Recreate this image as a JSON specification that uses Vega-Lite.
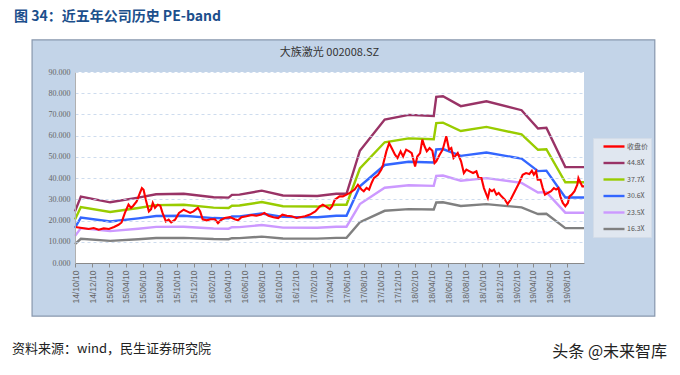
{
  "$schema": "https://vega.github.io/schema/vega-lite/v6.json",
  "width": 509,
  "height": 191,
  "autosize": {"type": "none"},
  "padding": {"left": 75, "top": 72, "right": 96, "bottom": 112},
  "background": "white",
  "config": {
    "view": {"stroke": null},
    "axis": {"zindex": 1, "labelOverlap": false, "labelFlush": false, "labelBound": false, "title": null}
  },
  "datasets": {
    "bands": [
      {"d": "2014-10-10", "s": "44.8X", "v": 24.3}, {"d": "2014-10-10", "s": "37.7X", "v": 20.45}, {"d": "2014-10-10", "s": "30.6X", "v": 16.6}, {"d": "2014-10-10", "s": "23.5X", "v": 12.75}, {"d": "2014-10-10", "s": "16.3X", "v": 8.84},
      {"d": "2014-10-31", "s": "44.8X", "v": 31.3}, {"d": "2014-10-31", "s": "37.7X", "v": 26.34}, {"d": "2014-10-31", "s": "30.6X", "v": 21.38}, {"d": "2014-10-31", "s": "23.5X", "v": 16.42}, {"d": "2014-10-31", "s": "16.3X", "v": 11.39},
      {"d": "2015-02-13", "s": "44.8X", "v": 28.6}, {"d": "2015-02-13", "s": "37.7X", "v": 24.07}, {"d": "2015-02-13", "s": "30.6X", "v": 19.53}, {"d": "2015-02-13", "s": "23.5X", "v": 15.0}, {"d": "2015-02-13", "s": "16.3X", "v": 10.41},
      {"d": "2015-05-25", "s": "44.8X", "v": 30.8}, {"d": "2015-05-25", "s": "37.7X", "v": 25.92}, {"d": "2015-05-25", "s": "30.6X", "v": 21.04}, {"d": "2015-05-25", "s": "23.5X", "v": 16.16}, {"d": "2015-05-25", "s": "16.3X", "v": 11.21},
      {"d": "2015-07-28", "s": "44.8X", "v": 32.4}, {"d": "2015-07-28", "s": "37.7X", "v": 27.26}, {"d": "2015-07-28", "s": "30.6X", "v": 22.13}, {"d": "2015-07-28", "s": "23.5X", "v": 17.0}, {"d": "2015-07-28", "s": "16.3X", "v": 11.79},
      {"d": "2015-11-04", "s": "44.8X", "v": 32.6}, {"d": "2015-11-04", "s": "37.7X", "v": 27.43}, {"d": "2015-11-04", "s": "30.6X", "v": 22.27}, {"d": "2015-11-04", "s": "23.5X", "v": 17.1}, {"d": "2015-11-04", "s": "16.3X", "v": 11.86},
      {"d": "2016-02-19", "s": "44.8X", "v": 31.0}, {"d": "2016-02-19", "s": "37.7X", "v": 26.09}, {"d": "2016-02-19", "s": "30.6X", "v": 21.17}, {"d": "2016-02-19", "s": "23.5X", "v": 16.26}, {"d": "2016-02-19", "s": "16.3X", "v": 11.28},
      {"d": "2016-04-13", "s": "44.8X", "v": 30.8}, {"d": "2016-04-13", "s": "37.7X", "v": 25.92}, {"d": "2016-04-13", "s": "30.6X", "v": 21.04}, {"d": "2016-04-13", "s": "23.5X", "v": 16.16}, {"d": "2016-04-13", "s": "16.3X", "v": 11.21},
      {"d": "2016-04-25", "s": "44.8X", "v": 32.1}, {"d": "2016-04-25", "s": "37.7X", "v": 27.01}, {"d": "2016-04-25", "s": "30.6X", "v": 21.93}, {"d": "2016-04-25", "s": "23.5X", "v": 16.84}, {"d": "2016-04-25", "s": "16.3X", "v": 11.68},
      {"d": "2016-05-22", "s": "44.8X", "v": 32.2}, {"d": "2016-05-22", "s": "37.7X", "v": 27.1}, {"d": "2016-05-22", "s": "30.6X", "v": 21.99}, {"d": "2016-05-22", "s": "23.5X", "v": 16.89}, {"d": "2016-05-22", "s": "16.3X", "v": 11.72},
      {"d": "2016-08-10", "s": "44.8X", "v": 34.1}, {"d": "2016-08-10", "s": "37.7X", "v": 28.7}, {"d": "2016-08-10", "s": "30.6X", "v": 23.29}, {"d": "2016-08-10", "s": "23.5X", "v": 17.89}, {"d": "2016-08-10", "s": "16.3X", "v": 12.41},
      {"d": "2016-10-25", "s": "44.8X", "v": 31.8}, {"d": "2016-10-25", "s": "37.7X", "v": 26.76}, {"d": "2016-10-25", "s": "30.6X", "v": 21.72}, {"d": "2016-10-25", "s": "23.5X", "v": 16.68}, {"d": "2016-10-25", "s": "16.3X", "v": 11.57},
      {"d": "2017-02-25", "s": "44.8X", "v": 31.6}, {"d": "2017-02-25", "s": "37.7X", "v": 26.59}, {"d": "2017-02-25", "s": "30.6X", "v": 21.58}, {"d": "2017-02-25", "s": "23.5X", "v": 16.58}, {"d": "2017-02-25", "s": "16.3X", "v": 11.5},
      {"d": "2017-05-04", "s": "44.8X", "v": 32.6}, {"d": "2017-05-04", "s": "37.7X", "v": 27.43}, {"d": "2017-05-04", "s": "30.6X", "v": 22.27}, {"d": "2017-05-04", "s": "23.5X", "v": 17.1}, {"d": "2017-05-04", "s": "16.3X", "v": 11.86},
      {"d": "2017-06-10", "s": "44.8X", "v": 32.6}, {"d": "2017-06-10", "s": "37.7X", "v": 27.43}, {"d": "2017-06-10", "s": "30.6X", "v": 22.27}, {"d": "2017-06-10", "s": "23.5X", "v": 17.1}, {"d": "2017-06-10", "s": "16.3X", "v": 11.86},
      {"d": "2017-07-28", "s": "44.8X", "v": 52.9}, {"d": "2017-07-28", "s": "37.7X", "v": 44.52}, {"d": "2017-07-28", "s": "30.6X", "v": 36.13}, {"d": "2017-07-28", "s": "23.5X", "v": 27.75}, {"d": "2017-07-28", "s": "16.3X", "v": 19.25},
      {"d": "2017-10-25", "s": "44.8X", "v": 67.6}, {"d": "2017-10-25", "s": "37.7X", "v": 56.89}, {"d": "2017-10-25", "s": "30.6X", "v": 46.17}, {"d": "2017-10-25", "s": "23.5X", "v": 35.46}, {"d": "2017-10-25", "s": "16.3X", "v": 24.6},
      {"d": "2018-01-19", "s": "44.8X", "v": 69.8}, {"d": "2018-01-19", "s": "37.7X", "v": 58.74}, {"d": "2018-01-19", "s": "30.6X", "v": 47.68}, {"d": "2018-01-19", "s": "23.5X", "v": 36.61}, {"d": "2018-01-19", "s": "16.3X", "v": 25.4},
      {"d": "2018-04-19", "s": "44.8X", "v": 69.3}, {"d": "2018-04-19", "s": "37.7X", "v": 58.32}, {"d": "2018-04-19", "s": "30.6X", "v": 47.34}, {"d": "2018-04-19", "s": "23.5X", "v": 36.35}, {"d": "2018-04-19", "s": "16.3X", "v": 25.21},
      {"d": "2018-04-28", "s": "44.8X", "v": 78.3}, {"d": "2018-04-28", "s": "37.7X", "v": 65.89}, {"d": "2018-04-28", "s": "30.6X", "v": 53.48}, {"d": "2018-04-28", "s": "23.5X", "v": 41.07}, {"d": "2018-04-28", "s": "16.3X", "v": 28.49},
      {"d": "2018-05-22", "s": "44.8X", "v": 78.6}, {"d": "2018-05-22", "s": "37.7X", "v": 66.14}, {"d": "2018-05-22", "s": "30.6X", "v": 53.69}, {"d": "2018-05-22", "s": "23.5X", "v": 41.23}, {"d": "2018-05-22", "s": "16.3X", "v": 28.6},
      {"d": "2018-07-25", "s": "44.8X", "v": 73.9}, {"d": "2018-07-25", "s": "37.7X", "v": 62.19}, {"d": "2018-07-25", "s": "30.6X", "v": 50.48}, {"d": "2018-07-25", "s": "23.5X", "v": 38.76}, {"d": "2018-07-25", "s": "16.3X", "v": 26.89},
      {"d": "2018-10-25", "s": "44.8X", "v": 76.2}, {"d": "2018-10-25", "s": "37.7X", "v": 64.12}, {"d": "2018-10-25", "s": "30.6X", "v": 52.05}, {"d": "2018-10-25", "s": "23.5X", "v": 39.97}, {"d": "2018-10-25", "s": "16.3X", "v": 27.72},
      {"d": "2019-02-28", "s": "44.8X", "v": 72.0}, {"d": "2019-02-28", "s": "37.7X", "v": 60.59}, {"d": "2019-02-28", "s": "30.6X", "v": 49.18}, {"d": "2019-02-28", "s": "23.5X", "v": 37.77}, {"d": "2019-02-28", "s": "16.3X", "v": 26.2},
      {"d": "2019-04-28", "s": "44.8X", "v": 63.4}, {"d": "2019-04-28", "s": "37.7X", "v": 53.35}, {"d": "2019-04-28", "s": "30.6X", "v": 43.3}, {"d": "2019-04-28", "s": "23.5X", "v": 33.26}, {"d": "2019-04-28", "s": "16.3X", "v": 23.07},
      {"d": "2019-05-28", "s": "44.8X", "v": 63.7}, {"d": "2019-05-28", "s": "37.7X", "v": 53.6}, {"d": "2019-05-28", "s": "30.6X", "v": 43.51}, {"d": "2019-05-28", "s": "23.5X", "v": 33.41}, {"d": "2019-05-28", "s": "16.3X", "v": 23.18},
      {"d": "2019-08-04", "s": "44.8X", "v": 45.2}, {"d": "2019-08-04", "s": "37.7X", "v": 38.04}, {"d": "2019-08-04", "s": "30.6X", "v": 30.87}, {"d": "2019-08-04", "s": "23.5X", "v": 23.71}, {"d": "2019-08-04", "s": "16.3X", "v": 16.45},
      {"d": "2019-10-10", "s": "44.8X", "v": 45.2}, {"d": "2019-10-10", "s": "37.7X", "v": 38.04}, {"d": "2019-10-10", "s": "30.6X", "v": 30.87}, {"d": "2019-10-10", "s": "23.5X", "v": 23.71}, {"d": "2019-10-10", "s": "16.3X", "v": 16.45}
    ],
    "price": [
      {"d": "2014-10-10", "v": 17.0}, {"d": "2014-11-04", "v": 16.5}, {"d": "2014-11-28", "v": 16.0}, {"d": "2014-12-16", "v": 16.5},
      {"d": "2015-01-03", "v": 15.7}, {"d": "2015-01-21", "v": 16.3}, {"d": "2015-02-09", "v": 16.0}, {"d": "2015-02-27", "v": 17.0},
      {"d": "2015-03-15", "v": 18.0}, {"d": "2015-03-26", "v": 19.1}, {"d": "2015-04-07", "v": 23.6}, {"d": "2015-04-20", "v": 27.5},
      {"d": "2015-04-29", "v": 26.0}, {"d": "2015-05-07", "v": 27.0}, {"d": "2015-05-19", "v": 29.0}, {"d": "2015-05-31", "v": 33.0},
      {"d": "2015-06-07", "v": 35.3}, {"d": "2015-06-13", "v": 34.5}, {"d": "2015-06-21", "v": 29.8}, {"d": "2015-07-02", "v": 24.3},
      {"d": "2015-07-10", "v": 25.4}, {"d": "2015-07-16", "v": 28.3}, {"d": "2015-07-24", "v": 26.0}, {"d": "2015-08-03", "v": 27.5},
      {"d": "2015-08-12", "v": 27.0}, {"d": "2015-08-20", "v": 23.6}, {"d": "2015-09-01", "v": 19.6}, {"d": "2015-09-11", "v": 20.4},
      {"d": "2015-09-20", "v": 19.1}, {"d": "2015-10-04", "v": 20.4}, {"d": "2015-10-18", "v": 23.6}, {"d": "2015-11-04", "v": 25.1},
      {"d": "2015-11-16", "v": 24.3}, {"d": "2015-11-27", "v": 23.6}, {"d": "2015-12-09", "v": 24.3}, {"d": "2015-12-25", "v": 26.0},
      {"d": "2016-01-02", "v": 24.3}, {"d": "2016-01-11", "v": 20.6}, {"d": "2016-01-26", "v": 20.1}, {"d": "2016-02-08", "v": 20.6},
      {"d": "2016-02-24", "v": 20.6}, {"d": "2016-03-06", "v": 18.8}, {"d": "2016-03-18", "v": 20.4}, {"d": "2016-03-30", "v": 21.2},
      {"d": "2016-04-18", "v": 21.6}, {"d": "2016-05-05", "v": 20.6}, {"d": "2016-05-17", "v": 20.1}, {"d": "2016-05-29", "v": 21.6},
      {"d": "2016-06-16", "v": 22.0}, {"d": "2016-07-04", "v": 22.6}, {"d": "2016-07-22", "v": 22.3}, {"d": "2016-08-09", "v": 22.8},
      {"d": "2016-08-19", "v": 23.6}, {"d": "2016-09-03", "v": 22.3}, {"d": "2016-09-21", "v": 21.6}, {"d": "2016-10-08", "v": 21.2},
      {"d": "2016-10-23", "v": 22.8}, {"d": "2016-11-08", "v": 22.3}, {"d": "2016-11-25", "v": 22.0}, {"d": "2016-12-13", "v": 21.2},
      {"d": "2016-12-25", "v": 21.6}, {"d": "2017-01-12", "v": 22.0}, {"d": "2017-01-30", "v": 22.8}, {"d": "2017-02-18", "v": 24.3},
      {"d": "2017-03-06", "v": 26.6}, {"d": "2017-03-17", "v": 27.5}, {"d": "2017-03-29", "v": 26.6}, {"d": "2017-04-11", "v": 25.4},
      {"d": "2017-04-19", "v": 26.6}, {"d": "2017-04-29", "v": 29.8}, {"d": "2017-05-06", "v": 30.5}, {"d": "2017-05-16", "v": 31.4},
      {"d": "2017-05-28", "v": 31.4}, {"d": "2017-06-10", "v": 32.2}, {"d": "2017-06-22", "v": 33.0}, {"d": "2017-07-09", "v": 34.6},
      {"d": "2017-07-21", "v": 36.9}, {"d": "2017-08-03", "v": 34.6}, {"d": "2017-08-11", "v": 33.8}, {"d": "2017-08-21", "v": 35.4},
      {"d": "2017-08-30", "v": 34.6}, {"d": "2017-09-08", "v": 37.7}, {"d": "2017-09-16", "v": 40.0}, {"d": "2017-10-01", "v": 41.6},
      {"d": "2017-10-13", "v": 44.0}, {"d": "2017-10-19", "v": 46.3}, {"d": "2017-10-31", "v": 52.6}, {"d": "2017-11-10", "v": 56.5},
      {"d": "2017-11-19", "v": 54.2}, {"d": "2017-12-01", "v": 51.0}, {"d": "2017-12-10", "v": 49.5}, {"d": "2017-12-21", "v": 52.6},
      {"d": "2017-12-30", "v": 50.2}, {"d": "2018-01-10", "v": 53.4}, {"d": "2018-01-21", "v": 52.6}, {"d": "2018-01-30", "v": 51.8},
      {"d": "2018-02-11", "v": 45.5}, {"d": "2018-02-19", "v": 50.2}, {"d": "2018-03-01", "v": 51.8}, {"d": "2018-03-09", "v": 58.1},
      {"d": "2018-03-17", "v": 55.0}, {"d": "2018-03-25", "v": 52.6}, {"d": "2018-04-04", "v": 54.2}, {"d": "2018-04-14", "v": 52.9},
      {"d": "2018-04-22", "v": 47.1}, {"d": "2018-04-28", "v": 47.9}, {"d": "2018-05-10", "v": 51.0}, {"d": "2018-05-21", "v": 53.4},
      {"d": "2018-06-03", "v": 59.7}, {"d": "2018-06-13", "v": 53.4}, {"d": "2018-06-21", "v": 54.2}, {"d": "2018-06-29", "v": 49.5},
      {"d": "2018-07-14", "v": 51.8}, {"d": "2018-07-26", "v": 47.9}, {"d": "2018-08-05", "v": 42.4}, {"d": "2018-08-14", "v": 44.0},
      {"d": "2018-08-26", "v": 43.2}, {"d": "2018-09-07", "v": 42.4}, {"d": "2018-09-19", "v": 43.2}, {"d": "2018-09-27", "v": 40.0},
      {"d": "2018-10-07", "v": 40.0}, {"d": "2018-10-16", "v": 35.3}, {"d": "2018-10-25", "v": 32.2}, {"d": "2018-10-30", "v": 30.6},
      {"d": "2018-11-06", "v": 34.6}, {"d": "2018-11-14", "v": 33.8}, {"d": "2018-11-21", "v": 34.6}, {"d": "2018-11-30", "v": 32.2},
      {"d": "2018-12-08", "v": 33.0}, {"d": "2018-12-18", "v": 31.4}, {"d": "2018-12-30", "v": 29.9}, {"d": "2019-01-09", "v": 27.8},
      {"d": "2019-01-20", "v": 29.9}, {"d": "2019-02-04", "v": 33.8}, {"d": "2019-02-19", "v": 37.7}, {"d": "2019-03-04", "v": 41.6},
      {"d": "2019-03-16", "v": 42.4}, {"d": "2019-03-28", "v": 41.9}, {"d": "2019-04-06", "v": 43.5}, {"d": "2019-04-13", "v": 41.6},
      {"d": "2019-04-21", "v": 43.2}, {"d": "2019-04-27", "v": 39.2}, {"d": "2019-05-07", "v": 39.2}, {"d": "2019-05-15", "v": 35.3},
      {"d": "2019-05-23", "v": 32.2}, {"d": "2019-06-02", "v": 33.0}, {"d": "2019-06-14", "v": 33.8}, {"d": "2019-06-24", "v": 35.3},
      {"d": "2019-07-02", "v": 34.6}, {"d": "2019-07-10", "v": 35.3}, {"d": "2019-07-17", "v": 31.4}, {"d": "2019-07-26", "v": 28.3},
      {"d": "2019-08-04", "v": 26.7}, {"d": "2019-08-13", "v": 28.3}, {"d": "2019-08-19", "v": 31.4}, {"d": "2019-08-27", "v": 32.2},
      {"d": "2019-09-06", "v": 33.8}, {"d": "2019-09-16", "v": 36.9}, {"d": "2019-09-20", "v": 40.0}, {"d": "2019-09-28", "v": 37.7},
      {"d": "2019-10-04", "v": 36.1}, {"d": "2019-10-10", "v": 36.1}
    ]
  },
  "layer": [
    {
      "data": {"values": [{}]},
      "mark": {"type": "rect", "fill": "#c3d4e8", "stroke": "#8797ad", "strokeWidth": 1.2, "clip": false},
      "encoding": {
        "x": {
          "datum": {"year": 2014, "month": 5, "date": 9, "utc": true}, "type": "temporal", "title": null,
          "scale": {"type": "utc", "domain": [{"year": 2014, "month": 10, "date": 10, "utc": true}, {"year": 2019, "month": 10, "date": 10, "utc": true}], "nice": false},
          "axis": {
            "format": "%y/%m/%d", "labelAngle": -90, "labelFont": "Liberation Sans", "labelFontSize": 8.5, "labelColor": "#666666",
            "labelOverlap": false, "labelFlush": false, "labelBound": false, "tickCount": 40,
            "grid": false, "domainColor": "#8a8a8a", "tickColor": "#8a8a8a", "tickSize": 4, "labelPadding": 3, "zindex": 1,
            "values": [
              {"year": 2014, "month": 10, "date": 10, "utc": true}, {"year": 2014, "month": 12, "date": 10, "utc": true},
              {"year": 2015, "month": 2, "date": 10, "utc": true}, {"year": 2015, "month": 4, "date": 10, "utc": true},
              {"year": 2015, "month": 6, "date": 10, "utc": true}, {"year": 2015, "month": 8, "date": 10, "utc": true},
              {"year": 2015, "month": 10, "date": 10, "utc": true}, {"year": 2015, "month": 12, "date": 10, "utc": true},
              {"year": 2016, "month": 2, "date": 10, "utc": true}, {"year": 2016, "month": 4, "date": 10, "utc": true},
              {"year": 2016, "month": 6, "date": 10, "utc": true}, {"year": 2016, "month": 8, "date": 10, "utc": true},
              {"year": 2016, "month": 10, "date": 10, "utc": true}, {"year": 2016, "month": 12, "date": 10, "utc": true},
              {"year": 2017, "month": 2, "date": 10, "utc": true}, {"year": 2017, "month": 4, "date": 10, "utc": true},
              {"year": 2017, "month": 6, "date": 10, "utc": true}, {"year": 2017, "month": 8, "date": 10, "utc": true},
              {"year": 2017, "month": 10, "date": 10, "utc": true}, {"year": 2017, "month": 12, "date": 10, "utc": true},
              {"year": 2018, "month": 2, "date": 10, "utc": true}, {"year": 2018, "month": 4, "date": 10, "utc": true},
              {"year": 2018, "month": 6, "date": 10, "utc": true}, {"year": 2018, "month": 8, "date": 10, "utc": true},
              {"year": 2018, "month": 10, "date": 10, "utc": true}, {"year": 2018, "month": 12, "date": 10, "utc": true},
              {"year": 2019, "month": 2, "date": 10, "utc": true}, {"year": 2019, "month": 4, "date": 10, "utc": true},
              {"year": 2019, "month": 6, "date": 10, "utc": true}, {"year": 2019, "month": 8, "date": 10, "utc": true}
            ]
          }
        },
        "x2": {"datum": {"year": 2020, "month": 6, "date": 20, "utc": true}},
        "y": {
          "datum": 105.1, "type": "quantitative", "title": null,
          "scale": {"domain": [0, 90], "nice": false, "zero": true},
          "axis": {
            "values": [0, 10, 20, 30, 40, 50, 60, 70, 80, 90], "format": ".3f", "tickCount": 20,
            "labelOverlap": false, "labelFlush": false, "labelBound": false,
            "labelFont": "Liberation Serif", "labelFontSize": 8, "labelColor": "#666666", "labelPadding": 5,
            "ticks": false, "domain": true, "domainColor": "#b0b0b0",
            "grid": true, "gridColor": "#c2d3ea", "gridDash": [3, 3], "gridWidth": 0.8, "zindex": 1
          }
        },
        "y2": {"datum": -25.0}
      }
    },
    {
      "data": {"values": [{}]},
      "mark": {"type": "rect", "fill": "white", "clip": false},
      "encoding": {
        "x": {"datum": {"year": 2014, "month": 10, "date": 10, "utc": true}, "type": "temporal", "title": null},
        "x2": {"datum": {"year": 2019, "month": 10, "date": 10, "utc": true}},
        "y": {"datum": 0, "type": "quantitative", "title": null},
        "y2": {"datum": 90}
      }
    },
    {
      "data": {"name": "bands"},
      "mark": {"type": "line", "strokeWidth": 2.4, "interpolate": "linear"},
      "encoding": {
        "x": {"field": "d", "type": "temporal", "title": null},
        "y": {"field": "v", "type": "quantitative", "title": null},
        "color": {
          "field": "s", "type": "nominal",
          "scale": {
            "domain": ["收盘价", "44.8X", "37.7X", "30.6X", "23.5X", "16.3X"],
            "range": ["#ff0000", "#993366", "#99cc00", "#3366ff", "#cc99ff", "#808080"]
          },
          "legend": {
            "title": null, "orient": "none", "legendX": 518, "legendY": 66,
            "fillColor": "#e0e7f0", "strokeColor": "#d3dce8", "padding": 3,
            "symbolType": "M0.5,0H5.75", "symbolSize": 64, "symbolStrokeWidth": 2.4,
            "labelFont": "Noto Sans CJK SC", "labelFontSize": 7, "labelColor": "#555555",
            "labelOffset": 20, "rowPadding": 5.5, "zindex": 2
          }
        }
      }
    },
    {
      "data": {"name": "price"},
      "mark": {"type": "line", "strokeWidth": 2.1, "color": "#ff0000"},
      "encoding": {
        "x": {"field": "d", "type": "temporal", "title": null},
        "y": {"field": "v", "type": "quantitative", "title": null},
        "color": {"datum": "收盘价", "type": "nominal"}
      }
    },
    {
      "data": {"values": [{}]},
      "mark": {"type": "text", "text": "大族激光 002008.SZ", "font": "Noto Sans CJK SC", "fontSize": 11, "color": "#333333", "align": "center", "baseline": "middle", "clip": false},
      "encoding": {
        "x": {"datum": {"year": 2017, "month": 4, "date": 10, "utc": true}, "type": "temporal", "title": null},
        "y": {"datum": 99.0, "type": "quantitative", "title": null}
      }
    },
    {
      "data": {"values": [{}]},
      "mark": {"type": "text", "text": "图 34：近五年公司历史 PE-band", "font": "Noto Sans CJK SC", "fontSize": 14, "fontWeight": "bold", "color": "#1c4f8c", "align": "left", "baseline": "middle", "clip": false},
      "encoding": {
        "x": {"datum": {"year": 2014, "month": 3, "date": 5, "utc": true}, "type": "temporal", "title": null},
        "y": {"datum": 115.9, "type": "quantitative", "title": null}
      }
    },
    {
      "data": {"values": [{}]},
      "mark": {"type": "text", "text": "资料来源：wind，民生证券研究院", "font": "Noto Sans CJK SC", "fontSize": 13, "color": "#222222", "align": "left", "baseline": "middle", "clip": false},
      "encoding": {
        "x": {"datum": {"year": 2014, "month": 2, "date": 26, "utc": true}, "type": "temporal", "title": null},
        "y": {"datum": -40.5, "type": "quantitative", "title": null}
      }
    },
    {
      "data": {"values": [{}]},
      "mark": {"type": "text", "text": "头条 @未来智库", "font": "Noto Sans CJK SC", "fontSize": 16, "color": "#222222", "align": "right", "baseline": "middle", "clip": false},
      "encoding": {
        "x": {"datum": {"year": 2020, "month": 8, "date": 3, "utc": true}, "type": "temporal", "title": null},
        "y": {"datum": -41.9, "type": "quantitative", "title": null}
      }
    }
  ]
}
